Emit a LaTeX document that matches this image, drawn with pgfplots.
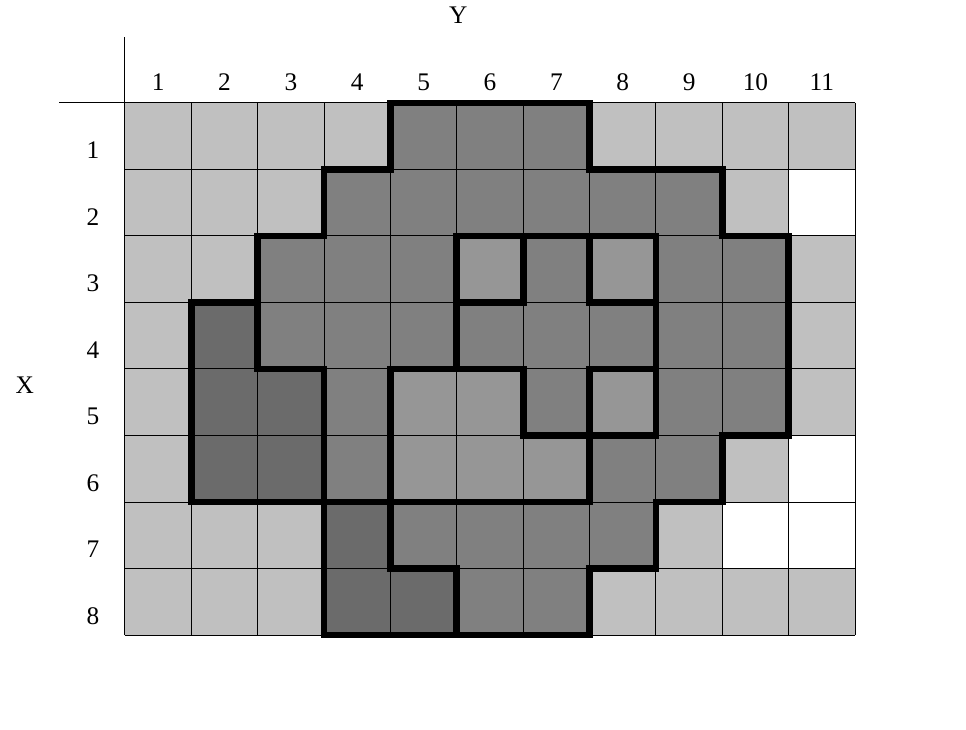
\documentclass[border=0pt]{standalone}
\usepackage{fontspec}
\setmainfont{Liberation Serif}
\usepackage{pgfplots}
\pgfplotsset{compat=1.18}
\begin{document}
\begin{tikzpicture}
\path[use as bounding box] (-93.75pt,-71.25pt) rectangle (630.75pt,476.25pt);
\begin{axis}[
  at={(0pt,0pt)}, anchor=south west,
  scale only axis, width=547.5pt, height=399pt,
  xmin=0.5, xmax=11.5, ymin=0.5, ymax=8.5,
  y dir=reverse, enlargelimits=false, clip=false,
  axis line style={draw=none},
  axis on top,
  xtick={1,...,11}, ytick={1,...,8},
  xticklabel pos=upper,
  major tick length=0pt, minor tick length=0pt,
  minor xtick={0.5,1.5,...,11.5}, minor ytick={0.5,1.5,...,8.5},
  xminorgrids, yminorgrids,
  minor grid style={black, line width=0.75pt},
  /pgf/number format/assume math mode=true,
  tick label style={font=\fontsize{19}{22}\selectfont},
  xticklabel style={anchor=center, yshift=15.75pt},
  yticklabel style={anchor=center, xshift=-24pt, yshift=-10.5pt},
  colormap={grays}{rgb255=(255,255,255) rgb255=(192,192,192) rgb255=(150,150,150) rgb255=(128,128,128) rgb255=(107,107,107)},
  colormap access=direct,
]
\addplot[matrix plot*, mesh/cols=11, point meta=explicit] table[meta=c] {
x y c
1 1 1
2 1 1
3 1 1
4 1 1
5 1 3
6 1 3
7 1 3
8 1 1
9 1 1
10 1 1
11 1 1
1 2 1
2 2 1
3 2 1
4 2 3
5 2 3
6 2 3
7 2 3
8 2 3
9 2 3
10 2 1
11 2 0
1 3 1
2 3 1
3 3 3
4 3 3
5 3 3
6 3 2
7 3 3
8 3 2
9 3 3
10 3 3
11 3 1
1 4 1
2 4 4
3 4 3
4 4 3
5 4 3
6 4 3
7 4 3
8 4 3
9 4 3
10 4 3
11 4 1
1 5 1
2 5 4
3 5 4
4 5 3
5 5 2
6 5 2
7 5 3
8 5 2
9 5 3
10 5 3
11 5 1
1 6 1
2 6 4
3 6 4
4 6 3
5 6 2
6 6 2
7 6 2
8 6 3
9 6 3
10 6 1
11 6 0
1 7 1
2 7 1
3 7 1
4 7 4
5 7 3
6 7 3
7 7 3
8 7 3
9 7 1
10 7 0
11 7 0
1 8 1
2 8 1
3 8 1
4 8 4
5 8 4
6 8 3
7 8 3
8 8 1
9 8 1
10 8 1
11 8 1
};
\pgfplotsset{thick line/.style={black, line width=5pt, line cap=rect, line join=miter}}
% outer boundary
\addplot[thick line] coordinates {(4.5,0.5) (7.5,0.5) (7.5,1.5) (9.5,1.5) (9.5,2.5) (10.5,2.5) (10.5,5.5) (9.5,5.5) (9.5,6.5) (8.5,6.5) (8.5,7.5) (7.5,7.5) (7.5,8.5) (3.5,8.5) (3.5,6.5) (1.5,6.5) (1.5,3.5) (2.5,3.5) (2.5,2.5) (3.5,2.5) (3.5,1.5) (4.5,1.5) (4.5,0.5)};
% inner boundaries
\addplot[thick line] coordinates {(2.5,3.5) (2.5,4.5) (3.5,4.5) (3.5,6.5)};
\addplot[thick line] coordinates {(3.5,6.5) (7.5,6.5)};
\addplot[thick line] coordinates {(4.5,6.5) (4.5,4.5) (6.5,4.5) (6.5,5.5) (8.5,5.5)};
\addplot[thick line] coordinates {(7.5,4.5) (8.5,4.5)};
\addplot[thick line] coordinates {(7.5,4.5) (7.5,6.5)};
\addplot[thick line] coordinates {(8.5,2.5) (8.5,5.5)};
\addplot[thick line] coordinates {(5.5,4.5) (5.5,2.5) (8.5,2.5)};
\addplot[thick line] coordinates {(6.5,2.5) (6.5,3.5) (5.5,3.5)};
\addplot[thick line] coordinates {(7.5,2.5) (7.5,3.5) (8.5,3.5)};
\addplot[thick line] coordinates {(4.5,6.5) (4.5,7.5) (5.5,7.5) (5.5,8.5)};
% header lines
\draw[black, line width=0.75pt] (axis cs:0.5,0.5) -- (axis cs:0.5,-0.49);
\draw[black, line width=0.75pt] (axis cs:0.5,0.5) -- (axis cs:-0.5,0.5);
\node[font=\fontsize{19}{22}\selectfont] at (axis cs:5.52,-0.82) {Y};
\node[font=\fontsize{19}{22}\selectfont] at (axis cs:-1.01,4.74) {X};
\end{axis}
\end{tikzpicture}
\end{document}
